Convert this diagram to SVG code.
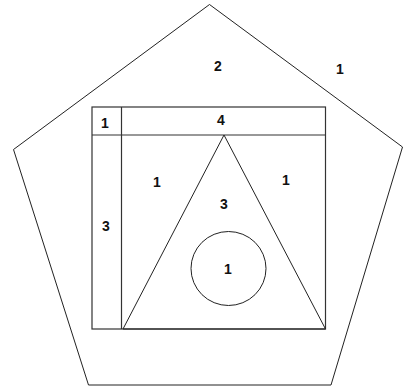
<svg xmlns="http://www.w3.org/2000/svg" width="403" height="388" viewBox="0 0 403 388">
<style>
.s{fill:none;stroke:#222;stroke-width:1}
.r{fill:none;stroke:#333;stroke-width:1.2}
text{font-family:"Liberation Sans",Arial,sans-serif;font-size:14px;font-weight:bold;fill:#111;text-anchor:middle;dominant-baseline:central}
</style>
<rect width="403" height="388" fill="#fff"/>
<g id="pentagon"><polygon class="s" points="209.5,4.5 13.5,149.5 88.5,385 331,385 402.5,147"/></g>
<g id="square">
<rect class="r" x="92" y="107" width="233.5" height="222"/>
<line class="r" x1="92" y1="135" x2="325.5" y2="135"/>
<line class="r" x1="121.5" y1="107" x2="121.5" y2="329"/>
</g>
<g id="triangle"><polygon class="s" points="224,135 123,329 325.5,329"/></g>
<g id="circle"><ellipse class="s" cx="228.5" cy="268.5" rx="37.5" ry="37"/></g>
<g id="labels">
<text x="218" y="66">2</text>
<text x="340" y="69">1</text>
<text x="105" y="123">1</text>
<text x="221" y="120">4</text>
<text x="157" y="182">1</text>
<text x="286" y="180">1</text>
<text x="224" y="204">3</text>
<text x="106" y="226">3</text>
<text x="228" y="269">1</text>
</g>
</svg>
